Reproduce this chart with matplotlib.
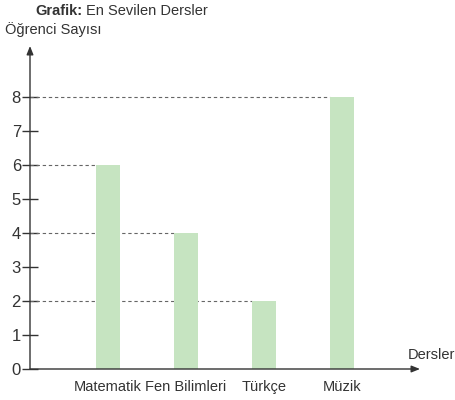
import matplotlib
matplotlib.use("Agg")
import matplotlib.pyplot as plt

dersler = ["Matematik", "Fen Bilimleri", "Türkçe", "Müzik"]
ogrenci = [6, 4, 2, 8]
y_ticks = [0, 1, 2, 3, 4, 5, 6, 7, 8]

plt.rcParams['font.family'] = ['Liberation Sans', 'DejaVu Sans']
txt_color = "#333333"

fig = plt.figure(figsize=(4.55, 4.0), dpi=100)
ax = fig.add_axes([30 / 455, 31 / 400, (420 - 30) / 455, (369 - 46) / 400])

x = list(range(len(dersler)))
ax.set_xlim(-1.0, 4.0)
ax.set_ylim(0, 9.5)

bw = 0.3
ax.bar(x, ogrenci, width=bw, color="#c6e4c1", zorder=3)

# dashed guide lines from the y axis to each bar
for xi, v in zip(x, ogrenci):
    ax.plot([-1.0, xi - bw / 2], [v, v], linestyle=(0, (3, 2.5)),
            color="#666666", linewidth=0.8, zorder=2)

for s in ax.spines.values():
    s.set_visible(False)

arrow = dict(arrowstyle="-|>,head_length=0.5,head_width=0.2",
             color="#333333", lw=1.0, shrinkA=0, shrinkB=0)
ax.annotate("", xy=(0, 1.0), xytext=(0, 0), xycoords="axes fraction", arrowprops=arrow)
ax.annotate("", xy=(1.0, 0), xytext=(0, 0), xycoords="axes fraction", arrowprops=arrow)

ax.set_yticks(y_ticks)
ax.set_yticklabels([str(t) for t in y_ticks], fontsize=12, color=txt_color)
ax.tick_params(axis="y", direction="inout", length=11, width=1, color="#333333", pad=1)
ax.set_xticks(x)
ax.set_xticklabels(dersler, fontsize=10.5, color=txt_color)
ax.tick_params(axis="x", length=0, pad=8)

t1 = fig.text(35 / 455, 1 - 11 / 400, "Grafik:", fontsize=10.5, fontweight="bold",
              color=txt_color, va="center", ha="left")
fig.canvas.draw()
bb = t1.get_window_extent()
fig.text(bb.x1 / fig.bbox.width + 4 / 455, 1 - 11 / 400, "En Sevilen Dersler", fontsize=10.5,
         color=txt_color, va="center", ha="left")
fig.text(5 / 455, 1 - 30 / 400, "Öğrenci Sayısı", fontsize=10.5,
         color=txt_color, va="center", ha="left")
fig.text(408 / 455, 1 - 355 / 400, "Dersler", fontsize=10.5,
         color=txt_color, va="center", ha="left")

fig.savefig("out.png", dpi=100)
